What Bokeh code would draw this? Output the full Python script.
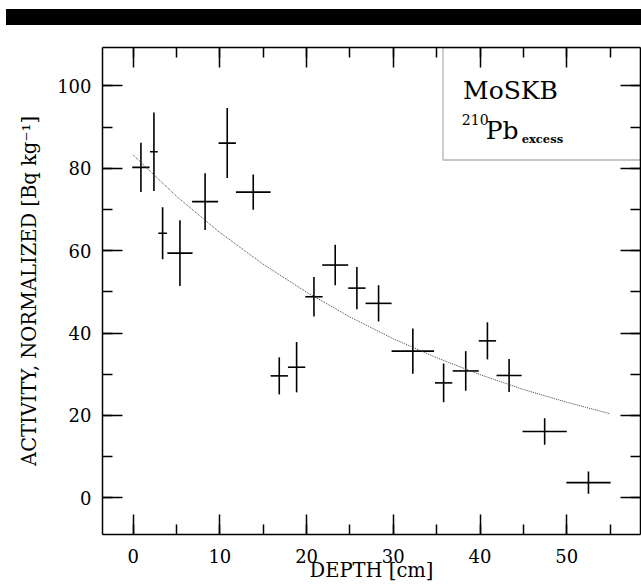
from bokeh.plotting import figure
from bokeh.models import (Range1d, LinearAxis, SingleIntervalTicker, Label,
                          BoxAnnotation, Div, ColumnDataSource)
from bokeh.layouts import column
from bokeh.embed import file_html
from bokeh.resources import INLINE

# ---- data ----
depth = [0.9, 2.4, 3.4, 5.4, 8.3, 10.85, 13.85, 16.85, 18.85, 20.85,
         23.3, 25.8, 28.3, 32.25, 35.8, 38.35, 40.85, 43.35, 47.45, 52.5]
depth_err = [1.0, 0.45, 0.5, 1.45, 1.5, 1.0, 2.0, 1.0, 1.0, 1.0,
             1.5, 1.0, 1.5, 2.45, 1.0, 1.5, 1.0, 1.45, 2.55, 2.55]
activity = [80.2, 84.0, 64.2, 59.4, 71.9, 86.1, 74.2, 29.6, 31.7, 48.8,
            56.5, 50.9, 47.2, 35.6, 27.9, 30.8, 38.1, 29.7, 16.1, 3.7]
activity_err = [6.0, 9.5, 6.3, 8.0, 6.9, 8.5, 4.3, 4.5, 6.1, 4.8,
                4.9, 5.1, 4.4, 5.5, 4.7, 4.8, 4.5, 4.0, 3.2, 2.7]

fit_depth = [0, 5, 10, 15, 20, 25, 30, 35, 40, 45, 50, 55]
fit_activity = [83.2, 73.2, 64.4, 56.7, 49.9, 43.9, 38.6, 34.0, 29.9, 26.3, 23.2, 20.4]

x_label = "DEPTH [cm]"
y_label = "ACTIVITY, NORMALIZED [Bq kg\u207b\u00b9]"
site_name = "MoSKB"

FONT = "DejaVu Serif"

p = figure(frame_width=538, frame_height=487, output_backend="svg",
           toolbar_location=None,
           x_range=Range1d(-3.53, 58.5), y_range=Range1d(-8.9, 109.3),
           x_axis_location=None, y_axis_location=None,
           min_border_left=102, min_border_right=1, min_border_top=22,
           min_border_bottom=10)
p.xgrid.grid_line_color = None
p.ygrid.grid_line_color = None
p.outline_line_color = None
p.background_fill_color = "white"
p.border_fill_color = "white"


def make_axis(interval, labels, label_text=None, label_size="20px"):
    ax = LinearAxis(ticker=SingleIntervalTicker(interval=interval, num_minor_ticks=2))
    ax.axis_line_color = "black"
    ax.axis_line_width = 1.5
    ax.major_tick_line_color = "black"
    ax.major_tick_line_width = 1.5
    ax.minor_tick_line_color = "black"
    ax.minor_tick_line_width = 1.5
    ax.major_tick_in = 20
    ax.major_tick_out = 0
    ax.minor_tick_in = 10
    ax.minor_tick_out = 0
    if labels:
        ax.major_label_text_font = FONT
        ax.major_label_text_font_size = "18px"
        ax.major_label_text_color = "black"
    else:
        ax.major_label_text_font_size = "1px"
        ax.major_label_text_color = None
        ax.major_label_standoff = 0
    if label_text:
        ax.axis_label = label_text
        ax.axis_label_text_font = FONT
        ax.axis_label_text_font_size = label_size
        ax.axis_label_text_font_style = "normal"
        ax.axis_label_text_color = "black"
    return ax


bottom = make_axis(10, True, x_label, "19.5px")
bottom.major_label_standoff = 14
bottom.axis_label_standoff = -7
left = make_axis(20, True, y_label, "19.5px")
left.major_label_standoff = 11
left.axis_label_standoff = 13
p.add_layout(bottom, "below")
p.add_layout(left, "left")
p.add_layout(make_axis(10, False), "above")
p.add_layout(make_axis(20, False), "right")

src = ColumnDataSource(dict(
    x=depth, y=activity,
    x0=[d - e for d, e in zip(depth, depth_err)],
    x1=[d + e for d, e in zip(depth, depth_err)],
    y0=[a - e for a, e in zip(activity, activity_err)],
    y1=[a + e for a, e in zip(activity, activity_err)],
))
p.segment(x0="x0", y0="y", x1="x1", y1="y", source=src, line_color="black", line_width=1.6)
p.segment(x0="x", y0="y0", x1="x", y1="y1", source=src, line_color="black", line_width=1.6)

p.line(fit_depth, fit_activity, line_color="#444444", line_width=1, line_dash="1 1")

box = BoxAnnotation(left=35.73, right=58.5, bottom=82.0, top=109.3,
                    fill_alpha=0, line_color="black", line_width=1.3)
p.add_layout(box)

p.add_layout(Label(x=38.04, y=98.8, text=site_name, text_font=FONT,
                   text_font_size="25px", text_baseline="alphabetic", text_color="black"))
p.add_layout(Label(x=37.9, y=91.9, text="210", text_font=FONT,
                   text_font_size="14px", text_baseline="alphabetic", text_color="black"))
p.add_layout(Label(x=40.65, y=89.1, text="Pb", text_font=FONT,
                   text_font_size="25px", text_baseline="alphabetic", text_color="black"))
p.add_layout(Label(x=44.8, y=87.2, text="excess", text_font=FONT,
                   text_font_size="11.5px", text_font_style="bold",
                   text_baseline="alphabetic", text_color="black"))

bar = Div(text="", width=635, height=16, margin=(9, 0, 0, 6),
          styles={"background-color": "black"})

layout = column(bar, p, spacing=0)

open("out.html", "w").write(file_html(layout, INLINE))
